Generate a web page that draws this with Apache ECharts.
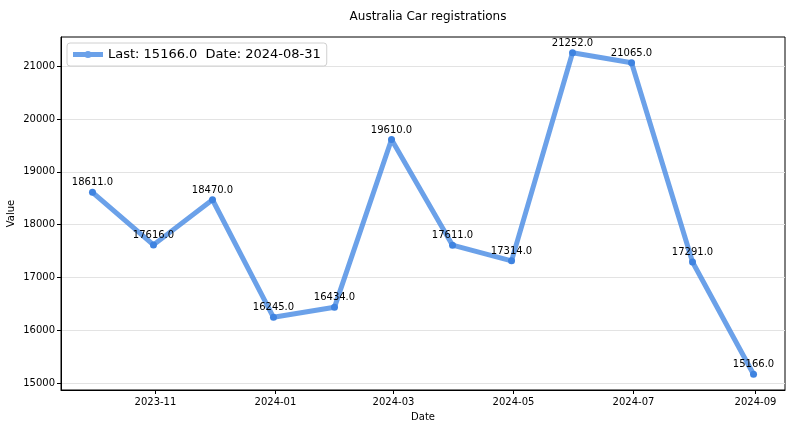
<!DOCTYPE html>
<html>
<head>
<meta charset="utf-8">
<script src="https://cdn.jsdelivr.net/npm/echarts@6/dist/echarts.min.js"></script>
<style>html,body{margin:0;padding:0;background:#fff}#c{width:792px;height:428px}</style>
</head>
<body>
<div id="c"></div>
<script>
const dates = ['2023-09-30','2023-10-31','2023-11-30','2023-12-31','2024-01-31','2024-02-29','2024-03-31','2024-04-30','2024-05-31','2024-06-30','2024-07-31','2024-08-31'];
const values = [18611, 17616, 18470, 16245, 16434, 19610, 17611, 17314, 21252, 21065, 17291, 15166];
const xTickLabels = ['2023-11','2024-01','2024-03','2024-05','2024-07','2024-09'];
const yTicks = [15000, 16000, 17000, 18000, 19000, 20000, 21000];

const ts = s => Date.parse(s + 'T00:00:00Z');
const xTickVals = xTickLabels.map(l => ts(l + '-01'));
const seriesData = dates.map((d, i) => [ts(d), values[i]]);
const lastVal = values[values.length - 1].toFixed(1);
const lastDate = dates[dates.length - 1];
const legendName = 'Last: ' + lastVal + '  Date: ' + lastDate;
const FONT = 'DejaVu Sans';
const LINE = 'rgba(74,140,228,0.82)';

const chart = echarts.init(document.getElementById('c'), null, {renderer: 'canvas'});
chart.setOption({
  animation: false,
  backgroundColor: '#fff',
  textStyle: {fontFamily: FONT},
  title: {
    text: 'Australia Car registrations',
    left: 423, top: 6, textAlign: 'center',
    textStyle: {fontFamily: FONT, fontSize: 12, fontWeight: 'normal', color: '#000'}
  },
  legend: {
    left: 67, top: 43,
    orient: 'vertical',
    padding: [5, 6, 5, 6],
    borderColor: '#d0d0d0', borderWidth: 1, borderRadius: 3,
    itemWidth: 30, itemHeight: 10, itemGap: 8,
    textStyle: {fontFamily: FONT, fontSize: 13, color: '#000'},
    data: [{
      name: legendName,
      icon: 'path://M0,2.6 L30,2.6 L30,7.4 L0,7.4 Z M15,1.4 A3.6,3.6 0 1 1 15,8.6 A3.6,3.6 0 1 1 15,1.4 Z',
      itemStyle: {color: LINE}
    }]
  },
  grid: {left: 61, right: 7, top: 37, bottom: 38, containLabel: false, outerBoundsMode: 'none',
         show: true, borderColor: '#000', borderWidth: 1, backgroundColor: 'transparent'},
  xAxis: {
    type: 'value',
    min: ts('2023-09-14'), max: ts('2024-09-16'),
    name: 'Date', nameLocation: 'middle', nameGap: 22, nameMoveOverlap: false,
    nameTextStyle: {fontFamily: FONT, fontSize: 10, color: '#000'},
    axisLine: {show: true, onZero: false, lineStyle: {color: '#000', width: 1}},
    axisTick: {show: true, length: 4, customValues: xTickVals, lineStyle: {color: '#000'}},
    axisLabel: {
      customValues: xTickVals, margin: 7,
      fontFamily: FONT, fontSize: 10, color: '#000',
      formatter: v => { const i = xTickVals.indexOf(v); return i >= 0 ? xTickLabels[i] : ''; }
    },
    splitLine: {show: false}
  },
  yAxis: {
    type: 'value',
    min: 14869, max: 21551,
    name: 'Value', nameLocation: 'middle', nameGap: 45, nameRotate: 90, nameMoveOverlap: false,
    nameTextStyle: {fontFamily: FONT, fontSize: 10, color: '#000'},
    axisLine: {show: true, lineStyle: {color: '#000', width: 1}},
    axisTick: {show: true, length: 4, customValues: yTicks, lineStyle: {color: '#000'}},
    axisLabel: {customValues: yTicks, margin: 6, fontFamily: FONT, fontSize: 10, color: '#000',
                formatter: v => String(v)},
    splitLine: {show: false}
  },
  series: [{
    name: legendName,
    type: 'line',
    data: seriesData,
    symbol: 'circle', symbolSize: 7,
    lineStyle: {color: LINE, width: 5},
    itemStyle: {color: '#3f83e0'},
    label: {
      show: true, position: 'top', distance: 1,
      fontFamily: FONT, fontSize: 10, color: '#000',
      formatter: p => p.value[1].toFixed(1)
    },
    markLine: {
      silent: true, symbol: 'none', z: 0,
      label: {show: false},
      lineStyle: {color: '#e3e3e3', width: 1, type: 'solid'},
      data: yTicks.map(v => ({yAxis: v}))
    },
    z: 3
  }]
});
</script>
</body>
</html>
